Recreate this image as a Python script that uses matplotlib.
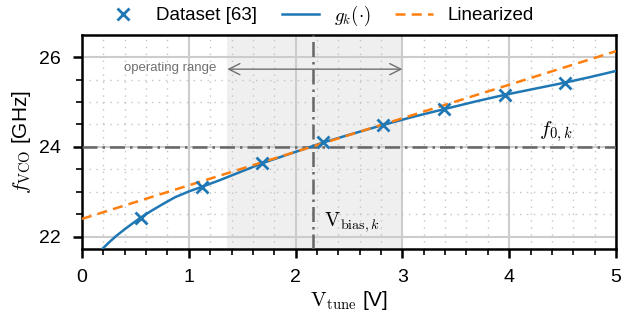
import matplotlib
matplotlib.use("Agg")
import matplotlib.pyplot as plt
from matplotlib.ticker import MultipleLocator

plt.rcParams['font.family'] = ['Liberation Sans', 'DejaVu Sans']
plt.rcParams['mathtext.fontset'] = 'cm'

# Data
data_v = [0.55, 1.12, 1.69, 2.26, 2.82, 3.39, 3.96, 4.52]
data_f = [22.43, 23.10, 23.64, 24.11, 24.49, 24.84, 25.16, 25.43]

curve_v = [0.19, 0.25, 0.32, 0.40, 0.48, 0.55, 0.65, 0.75, 0.87, 1.00, 1.12,
           1.30, 1.50, 1.69, 1.90, 2.10, 2.26, 2.50, 2.82, 3.10, 3.39, 3.70,
           3.96, 4.25, 4.52, 4.75, 5.00]
curve_f = [21.73, 21.87, 22.02, 22.17, 22.31, 22.43, 22.58, 22.72, 22.88, 23.01, 23.11,
           23.27, 23.46, 23.64, 23.81, 23.97, 24.10, 24.27, 24.49, 24.67, 24.84, 25.02,
           25.16, 25.30, 25.43, 25.55, 25.69]

lin_v = [0.0, 5.0]
lin_f = [22.40, 26.13]

v_bias = 2.16
f0 = 24.0
op_range = [1.36, 3.0]

fig = plt.figure(figsize=(6.38, 3.2), dpi=100)
ax = fig.add_axes([82/638, 1 - 249/320, (616-82)/638, (249-35)/320])

ax.axvspan(op_range[0], op_range[1], color='#efefef', zorder=0, lw=0)

ax.plot(curve_v, curve_f, color='#1f77b4', lw=1.8, label=r'$g_k(\cdot)$', zorder=4)
ax.plot(lin_v, lin_f, color='#ff7f0e', lw=1.8, ls=(0, (4, 2.5)), label='Linearized', zorder=5)
ax.plot(data_v, data_f, ls='none', marker='x', ms=8, mew=2, color='#1f77b4',
        label='Dataset [63]', zorder=6)

ax.axvline(v_bias, color='#666666', lw=1.8, ls=(0, (6, 2, 1, 2)), zorder=3)
ax.axhline(f0, color='#666666', lw=1.8, ls=(0, (6, 2, 1, 2)), zorder=3)

ax.annotate('', xy=(op_range[0], 25.73), xytext=(op_range[1], 25.73),
            arrowprops=dict(arrowstyle='<->', color='#707070', lw=1.0,
                            mutation_scale=20, shrinkA=0, shrinkB=0), zorder=6)
ax.text(0.83, 25.76, 'operating range', fontsize=9.5, color='#707070',
        ha='center', va='center')
ax.text(2.27, 22.06, r'$\mathrm{V}_{\mathrm{bias},k}$', fontsize=14.5, ha='left', va='bottom')
ax.text(4.28, 24.06, r'$f_{0,k}$', fontsize=15, ha='left', va='bottom')

ax.set_xlim(0, 5)
ax.set_ylim(21.73, 26.49)
ax.xaxis.set_major_locator(MultipleLocator(1))
ax.xaxis.set_minor_locator(MultipleLocator(0.2))
ax.yaxis.set_major_locator(MultipleLocator(2))
ax.yaxis.set_minor_locator(MultipleLocator(0.5))

ax.grid(which='major', color='#cccccc', lw=1.5, zorder=1)
ax.grid(which='minor', color='#c4c4c4', lw=1.0, ls=(0, (1, 4)), zorder=1)
ax.set_axisbelow(True)

for s in ax.spines.values():
    s.set_linewidth(1.8)
ax.tick_params(which='major', length=6.5, width=1.8, labelsize=14, pad=8)
ax.tick_params(axis='y', which='major', pad=9)
ax.tick_params(which='minor', length=4, width=1.2)

ax.set_xlabel(r'$\mathrm{V}_{\mathrm{tune}}$ [V]', fontsize=15, labelpad=2)
ax.set_ylabel(r'$f_{\mathrm{VCO}}$ [GHz]', fontsize=15, labelpad=4)

h, l = ax.get_legend_handles_labels()
order = [2, 0, 1]
fig.legend([h[i] for i in order], [l[i] for i in order], ncol=3, frameon=False,
           loc='lower center', bbox_to_anchor=(0.5, 1 - 35/320), fontsize=13.5,
           handlelength=2.0, handletextpad=0.8, columnspacing=1.3, borderaxespad=0)

fig.savefig('out.png', dpi=100)
